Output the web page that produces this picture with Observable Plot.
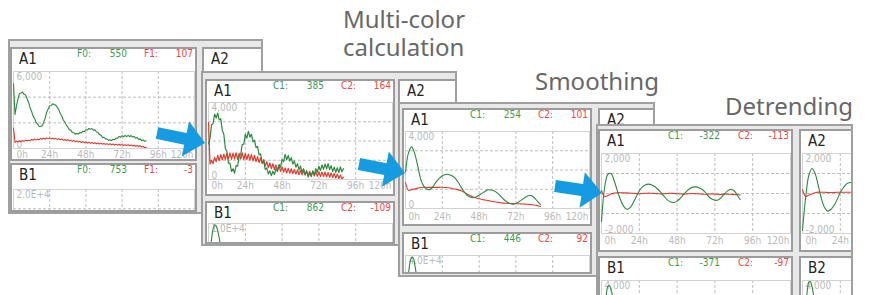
<!DOCTYPE html>
<html><head><meta charset="utf-8">
<script src="https://cdn.jsdelivr.net/npm/d3@7"></script>
<script src="https://cdn.jsdelivr.net/npm/@observablehq/plot@0.6"></script>
<style>
body{margin:0;background:#fff;}
#root{position:relative;width:870px;height:295px;overflow:hidden;background:#fff;font-family:"Noto Sans",sans-serif;}
.title{position:absolute;font-size:24px;color:#676767;line-height:28px;white-space:pre;}
.frame{position:absolute;box-sizing:border-box;border:2px solid #a0a0a0;background:#e8e8e8;overflow:hidden;}
.panel{position:absolute;box-sizing:border-box;border:2px solid #9c9c9c;background:#fff;overflow:hidden;}
.lab{position:absolute;left:7px;top:3px;font-family:"Liberation Sans Narrow","DejaVu Sans Condensed",sans-serif;font-size:15px;line-height:15px;color:#222;}
.hv{position:absolute;top:0;font-family:"DejaVu Sans Condensed",sans-serif;font-size:10px;line-height:10px;white-space:nowrap;}
.g{color:#3d9c50}.r{color:#f0463f}
.cw{position:absolute;left:0;}
.cw svg{display:block;}
#arrows{position:absolute;left:0;top:0;z-index:20;}
</style></head>
<body><div id="root"></div>
<script>
// ---------- tick labels ----------
const X_TICKS = [0, 24, 48, 72, 96, 120];
const X_TICK_LABELS = ["0h", "24h", "48h", "72h", "96h", "120h"];
const X_GRID = [24, 48, 72, 96];

// ---------- Screen 1: raw data (hourly, 0..88 h) ----------
const S1_STEP = 1;
const S1_A1_F0 = [5050,2650,3340,3870,4290,4330,4400,4220,4170,3880,3590,3170,2880,2520,2330,2030,1900,1720,1710,1770,2030,2370,2830,3080,3330,3350,3480,3420,3380,3220,3030,2730,2530,2220,2080,1820,1680,1470,1430,1250,1230,1120,1170,1130,1240,1210,1350,1320,1460,1440,1560,1490,1550,1430,1450,1290,1270,1080,1040,860,870,740,760,630,680,610,720,680,820,800,940,880,1000,910,1020,930,1020,920,1010,890,950,800,850,700,750,610,670,560,600];
const S1_A1_F1 = [1600,480,560,510,590,530,620,560,650,600,640,610,700,640,730,660,720,700,780,720,800,740,820,770,830,760,800,740,790,710,770,680,740,650,710,620,680,590,650,560,620,530,590,500,560,470,540,450,510,430,490,400,470,390,450,370,430,350,420,340,390,320,380,300,370,290,350,280,340,260,330,250,310,240,300,230,290,210,270,190,250,170,230,150,210,120,160,70,90];
// ---------- Screen 2: multi-color calculation (hourly, 0..88 h) ----------
const S2_STEP = 1;
const S2_A1_C1 = [1850,2150,2850,2900,3400,3200,3450,3100,3150,2550,2350,1600,1450,850,850,420,560,330,720,690,1250,1300,1820,1830,2350,2150,2500,2200,2350,1950,2050,1650,1720,1280,1330,880,950,520,600,290,450,200,430,260,560,420,790,640,1040,930,1300,1020,1250,960,1130,800,960,640,820,500,700,380,560,250,420,130,340,150,450,250,560,380,690,470,760,530,800,560,820,520,720,410,640,370,610,360,660,400,560];
const S2_A1_C2 = [2950,800,1000,820,1150,930,1250,980,1290,1020,1320,1030,1360,1060,1380,1050,1370,1070,1390,1040,1360,1060,1380,1030,1350,1040,1320,1010,1300,970,1250,930,1190,880,1130,820,1030,700,930,620,860,560,820,520,760,480,700,420,650,380,600,340,580,320,560,300,520,280,500,250,490,240,470,230,460,200,430,190,420,180,410,160,400,150,390,150,380,140,360,120,340,100,320,80,280,50,230,20,120];
const S2_B1_STEP = 1;
const S2_B1_C1 = [3000,6000,8000,9300,9800,9700,9000,8100,7000,5500,4000,3000,2200];
// ---------- Screen 3: smoothing (every 2 h, 0..88 h) ----------
const S3_STEP = 2;
const S3_A1_C1 = [1900,2900,3200,2850,2200,1500,1150,1000,990,1150,1380,1560,1700,1770,1770,1710,1600,1400,1150,900,700,600,560,600,690,800,900,975,960,910,800,640,480,350,260,220,260,350,460,570,660,670,560,380,200];
const S3_A1_C2 = [1350,950,980,1020,1060,1090,1100,1100,1100,1100,1100,1100,1100,1090,1080,1050,1010,980,930,850,760,680,600,550,510,470,440,410,380,350,320,300,280,270,260,255,250,245,235,225,215,200,185,150,100];
const S3_B1_STEP = 1;
const S3_B1_C1 = [10000,22000,31000,36500,39000,38800,35500,30500,25000,19000,14000,10000];
// ---------- Screen 4: detrending (every 2 h) ----------
const S4_STEP = 2;
const S4_A1_C1 = [-1400,300,950,1000,650,150,-300,-630,-790,-720,-480,-160,130,330,440,470,430,340,200,20,-170,-330,-430,-450,-380,-240,-60,110,240,320,330,280,200,50,-150,-280,-340,-320,-200,-30,130,210,150,-60,-300];
const S4_A1_C2 = [150,-150,-100,-30,20,40,40,30,30,20,10,0,-10,0,10,20,10,0,-10,-20,-10,0,10,0,-10,-20,-30,-20,-10,0,-10,-20,-30,-40,-30,-20,-30,-40,-50,-40,-30,-40,-50,-60,-70];
const S4_A2_C1 = [-1850,-200,900,1250,1000,400,-250,-700,-880,-800,-600,-300,50,300,480,550,520,430];
const S4_A2_C2 = [200,-150,-80,-20,40,70,60,60,50,50,50,60,60,60,60,60,60,60];
const S4_B_STEP = 1;
const S4_B1_C1 = [-2000,-500,1200,2500,3400,3500,3100,2500,1600,700,0];
const S4_B2_C1 = [-2000,-300,1500,2900,3800,3900,3400,2600,1600,600,-200];

// ---------- y tick labels ----------
const Y_LABELS = {
  s1a: ["6,000", "0"], s1b: ["2.0E+4", ""],
  s2a: ["4,000", "0"], s2b: ["1.0E+4", ""],
  s3a: ["4,000", "0"], s3b: ["4.0E+4", ""],
  s4a: ["2,000", "-2,000"], s4b: ["4,000", ""]
};
const HEADERS = {
  s1: {labels: ["F0:", "F1:"], A1: ["550", "107"], B1: ["753", "-3"]},
  s2: {labels: ["C1:", "C2:"], A1: ["385", "164"], B1: ["862", "-109"]},
  s3: {labels: ["C1:", "C2:"], A1: ["254", "101"], B1: ["446", "92"]},
  s4: {labels: ["C1:", "C2:"], A1: ["-322", "-113"], B1: ["-371", "-97"]}
};
const TITLES = ["Multi-color", "calculation", "Smoothing", "Detrending"];

const GREEN = "#2a8a3c", RED = "#e8392f", LABEL_GRAY = "#b9b9b9", GRID_GRAY = "#bdbdbd";
const tbl = (vals, step) => vals.map((v, i) => ({t: i * step, v}));

function makeChart(W, c) {
  const nx = c.nx == null ? X_TICKS.length : c.nx;
  const ticks = X_TICKS.map((t, i) => ({t, s: X_TICK_LABELS[i]})).slice(0, nx);
  const xdy = c.xdy || 7;
  const marks = [
    Plot.gridX(X_GRID, {stroke: GRID_GRAY, strokeOpacity: 1, strokeDasharray: "3,2"}),
    Plot.gridY(c.grid, {stroke: GRID_GRAY, strokeOpacity: 1, strokeDasharray: "3,2"}),
    Plot.frame({stroke: "#d2d2d2"}),
    Plot.text([c.labels[0]], {frameAnchor: "top-left", text: d => d, dx: 3, dy: 1, lineAnchor: "top", fill: LABEL_GRAY}),
    Plot.text(c.labels[1] ? [c.labels[1]] : [], {frameAnchor: "bottom-left", text: d => d, dx: 3, dy: -1, lineAnchor: "bottom", fill: LABEL_GRAY}),
    Plot.text(ticks.slice(0, 1), {x: "t", text: "s", frameAnchor: "bottom", dy: xdy, dx: 3, textAnchor: "start", lineAnchor: "middle", fill: LABEL_GRAY}),
    Plot.text(ticks.slice(1, 5), {x: "t", text: "s", frameAnchor: "bottom", dy: xdy, lineAnchor: "middle", fill: LABEL_GRAY}),
    Plot.text(ticks.slice(5), {x: "t", text: "s", frameAnchor: "bottom", dy: xdy, dx: -1, textAnchor: "end", lineAnchor: "middle", fill: LABEL_GRAY}),
    ...c.series.map(s => Plot.line(s.data, {x: "t", y: "v", stroke: s.color, strokeWidth: s.w || 1.1, curve: s.curve || "linear", clip: true}))
  ];
  return Plot.plot({
    width: W, height: c.plotH + 17,
    marginLeft: 1, marginRight: 1, marginTop: 1, marginBottom: 16,
    x: {domain: [0, 120], axis: null},
    y: {domain: c.domain, axis: null},
    style: {fontFamily: "'DejaVu Sans Condensed', sans-serif", fontSize: "10px", background: "transparent", overflow: "visible"},
    marks
  });
}

// ---------- layout ----------
const SCREENS = [
  {frame: [8, 39, 255, 175], hdr: HEADERS.s1, panels: [
    {id: "A1", box: [10, 47, 187, 114], vals: HEADERS.s1.A1, chart: {top: 21, plotH: 77, xdy: 6, domain: [0, 6000], grid: [2000, 4000], labels: Y_LABELS.s1a,
      series: [{data: tbl(S1_A1_F1, S1_STEP), color: RED}, {data: tbl(S1_A1_F0, S1_STEP), color: GREEN}]}},
    {id: "A2", box: [202, 47, 187, 114]},
    {id: "B1", box: [10, 163, 187, 49], vals: HEADERS.s1.B1, chart: {top: 23, plotH: 77, nx: 0, domain: [0, 20000], grid: [5000, 10000, 15000], labels: Y_LABELS.s1b, series: []}}
  ]},
  {frame: [201, 71, 256, 175], hdr: HEADERS.s2, panels: [
    {id: "A1", box: [205, 79, 190, 117], vals: HEADERS.s2.A1, chart: {top: 20, plotH: 77, xdy: 6, domain: [0, 4000], grid: [1000, 2000, 3000], labels: Y_LABELS.s2a,
      series: [{data: tbl(S2_A1_C2, S2_STEP), color: RED, w: 1.2}, {data: tbl(S2_A1_C1, S2_STEP), color: GREEN, w: 1.2}]}},
    {id: "A2", box: [398, 79, 190, 117]},
    {id: "B1", box: [205, 201, 190, 43], vals: HEADERS.s2.B1, chart: {top: 19, plotH: 77, nx: 0, domain: [0, 10000], grid: [2500, 5000, 7500], labels: Y_LABELS.s2b,
      series: [{data: tbl(S2_B1_C1, S2_B1_STEP), color: GREEN, curve: "catmull-rom"}]}}
  ]},
  {frame: [398, 102, 257, 175], hdr: HEADERS.s3, panels: [
    {id: "A1", box: [402, 108, 190, 118], vals: HEADERS.s3.A1, chart: {top: 20, plotH: 77, xdy: 8, domain: [0, 4000], grid: [1000, 2000, 3000], labels: Y_LABELS.s3a,
      series: [{data: tbl(S3_A1_C2, S3_STEP), color: RED, curve: "catmull-rom"}, {data: tbl(S3_A1_C1, S3_STEP), color: GREEN, curve: "catmull-rom"}]}},
    {id: "A2", box: [598, 108, 190, 118]},
    {id: "B1", box: [402, 232, 190, 42], vals: HEADERS.s3.B1, chart: {top: 20, plotH: 77, nx: 0, domain: [0, 40000], grid: [10000, 20000, 30000], labels: Y_LABELS.s3b,
      series: [{data: tbl(S3_B1_C1, S3_B1_STEP), color: GREEN, curve: "catmull-rom"}]}}
  ]},
  {frame: [596, 124, 257, 200], hdr: HEADERS.s4, panels: [
    {id: "A1", box: [598, 129, 195, 123], vals: HEADERS.s4.A1, chart: {top: 21, plotH: 80, xdy: 7, domain: [-2000, 2000], grid: [-1000, 0, 1000], labels: Y_LABELS.s4a,
      series: [{data: tbl(S4_A1_C2, S4_STEP), color: RED, curve: "catmull-rom"}, {data: tbl(S4_A1_C1, S4_STEP), color: GREEN, curve: "catmull-rom"}]}},
    {id: "A2", box: [799, 129, 195, 123], chart: {top: 21, plotH: 80, xdy: 7, nx: 2, domain: [-2000, 2000], grid: [-1000, 0, 1000], labels: Y_LABELS.s4a,
      series: [{data: tbl(S4_A2_C2, S4_STEP), color: RED, curve: "catmull-rom"}, {data: tbl(S4_A2_C1, S4_STEP), color: GREEN, curve: "catmull-rom"}]}},
    {id: "B1", box: [598, 256, 195, 60], vals: HEADERS.s4.B1, chart: {top: 21, plotH: 80, nx: 0, domain: [-4000, 4000], grid: [-2000, 0, 2000], labels: Y_LABELS.s4b,
      series: [{data: tbl(S4_B1_C1, S4_B_STEP), color: GREEN, curve: "catmull-rom"}]}},
    {id: "B2", box: [799, 256, 195, 60], chart: {top: 21, plotH: 80, nx: 0, domain: [-4000, 4000], grid: [-2000, 0, 2000], labels: Y_LABELS.s4b,
      series: [{data: tbl(S4_B2_C1, S4_B_STEP), color: GREEN, curve: "catmull-rom"}]}}
  ]}
];

const root = document.getElementById("root");
function el(tag, cls, style, parent, text) {
  const e = document.createElement(tag);
  if (cls) e.className = cls;
  Object.assign(e.style, style || {});
  if (text != null) e.textContent = text;
  parent.appendChild(e);
  return e;
}

// titles
el("div", "title", {left: "343px", top: "5px"}, root, TITLES[0] + "\n" + TITLES[1]);
el("div", "title", {left: "535px", top: "67px"}, root, TITLES[2]);
el("div", "title", {left: "725px", top: "92px"}, root, TITLES[3]);

SCREENS.forEach((s, si) => {
  const [fx, fy, fw, fh] = s.frame;
  const f = el("div", "frame", {left: fx + "px", top: fy + "px", width: fw + "px", height: fh + "px", zIndex: si + 1}, root);
  s.panels.forEach(p => {
    const [px, py, pw, ph] = p.box;
    const d = el("div", "panel", {left: (px - fx - 2) + "px", top: (py - fy - 2) + "px", width: pw + "px", height: ph + "px"}, f);
    const W = pw - 4;
    if (p.chart) {
      const wrap = el("div", "cw", {top: p.chart.top + "px"}, d);
      wrap.appendChild(makeChart(W, p.chart));
    }
    el("div", "lab", {}, d, p.id);
    if (p.vals) {
      el("div", "hv g", {left: Math.round(0.355 * W) + "px"}, d, s.hdr.labels[0]);
      el("div", "hv g", {right: Math.round(W - 0.63 * W) + "px"}, d, p.vals[0]);
      el("div", "hv r", {left: Math.round(0.72 * W) + "px"}, d, s.hdr.labels[1]);
      el("div", "hv r", {right: "2px"}, d, p.vals[1]);
    }
  });
});

// blue arrows (decoration)
const ARROWS = [{tail: [157, 133], tip: [205, 143]}, {tail: [359, 164], tip: [405, 173]}, {tail: [555, 186], tip: [602, 193]}];
const NS = "http://www.w3.org/2000/svg";
const asvg = document.createElementNS(NS, "svg");
asvg.setAttribute("id", "arrows"); asvg.setAttribute("width", 870); asvg.setAttribute("height", 295);
ARROWS.forEach(a => {
  const dx = a.tip[0] - a.tail[0], dy = a.tip[1] - a.tail[1];
  const L = Math.hypot(dx, dy), ang = Math.atan2(dy, dx) * 180 / Math.PI;
  const pts = [[0, -6], [L - 20, -6], [L - 20, -18], [L, 0], [L - 20, 18], [L - 20, 6], [0, 6]];
  const poly = document.createElementNS(NS, "polygon");
  poly.setAttribute("points", pts.map(q => q.join(",")).join(" "));
  poly.setAttribute("fill", "#149be2");
  poly.setAttribute("transform", `translate(${a.tail[0]},${a.tail[1]}) rotate(${ang})`);
  asvg.appendChild(poly);
});
root.appendChild(asvg);
</script>
</body></html>
